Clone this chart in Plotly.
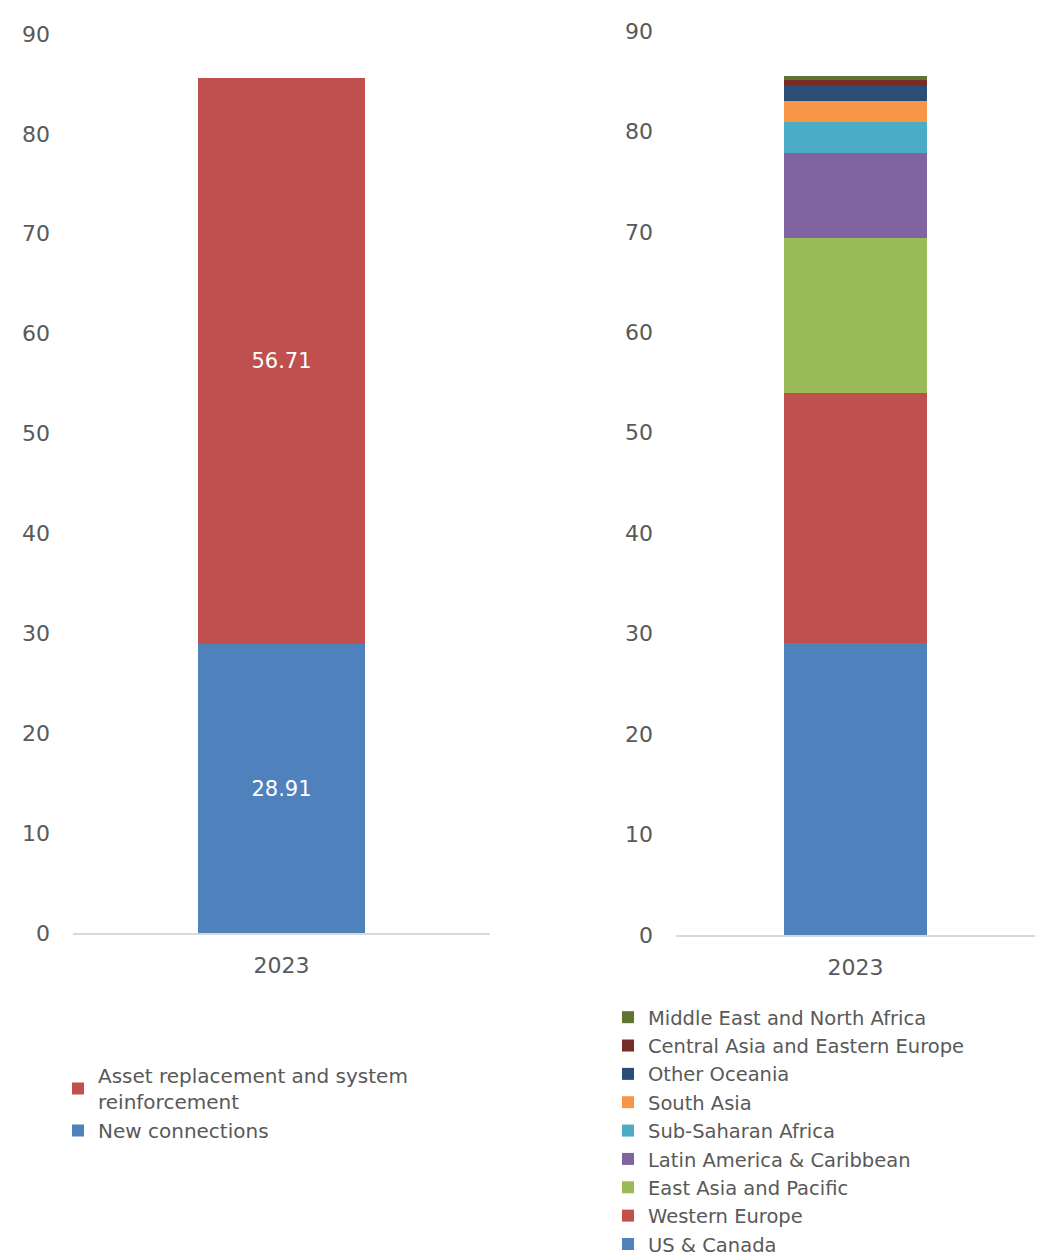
import plotly.graph_objects as go

FONT = "DejaVu Sans"
GREY = "#595959"
W, H = 1060, 1320  # figure taller than the window so the bottom legend is not squeezed
OFF = 8            # default body margin of the html page

years = ["2023"]

# left chart: by investment type
type_names = ["New connections", "Asset replacement and system<br>reinforcement"]
type_values = [28.91, 56.71]
type_colors = ["#4F81BD", "#C0504D"]

# right chart: by region (bottom to top)
region_names = [
    "US & Canada", "Western Europe", "East Asia and Pacific",
    "Latin America & Caribbean", "Sub-Saharan Africa", "South Asia",
    "Other Oceania", "Central Asia and Eastern Europe", "Middle East and North Africa",
]
region_values = [29.1, 24.9, 15.4, 8.5, 3.0, 2.1, 1.5, 0.6, 0.4]
region_colors = [
    "#4F81BD", "#C0504D", "#9BBB59", "#8064A2", "#4BACC6",
    "#F79646", "#2C4D75", "#772C2A", "#5F7530",
]


def px_x(x):
    return (x - OFF) / W


def px_y(y):
    return 1 - (y - OFF) / H


fig = go.Figure()

for name, val, col in zip(type_names, type_values, type_colors):
    fig.add_trace(go.Bar(
        x=years, y=[val], name=name, marker_color=col, marker_line_width=0,
        width=0.4, text=[f"{val:.2f}"], textposition="inside",
        insidetextanchor="middle", textfont=dict(color="white", size=21, family=FONT),
        xaxis="x", yaxis="y", legend="legend",
    ))

for name, val, col in zip(region_names, region_values, region_colors):
    fig.add_trace(go.Bar(
        x=years, y=[val], name=name, marker_color=col, marker_line_width=0,
        width=0.4, xaxis="x2", yaxis="y2", legend="legend2",
    ))

axis_common = dict(
    showgrid=False, zeroline=False, automargin=False,
    tickfont=dict(size=22, color=GREY, family=FONT),
)
xaxis_common = dict(type="category", showline=True, linecolor="#D9D9D9", linewidth=1.5,
                    ticks="", range=[-0.5, 0.5], ticklabelstandoff=12, **axis_common)
yaxis_common = dict(range=[0, 90], dtick=10, showline=False, ticklabelstandoff=22,
                    **axis_common)
legend_common = dict(xanchor="left", yanchor="top", traceorder="reversed",
                     bgcolor="rgba(0,0,0,0)")

fig.update_layout(
    template="none",
    width=W, height=H,
    margin=dict(l=0, r=0, t=0, b=0, autoexpand=False),
    plot_bgcolor="white", paper_bgcolor="white",
    barmode="stack",
    font=dict(family=FONT, color=GREY),
    xaxis=dict(domain=[px_x(73), px_x(490)], anchor="y", **xaxis_common),
    yaxis=dict(domain=[px_y(933), px_y(34)], anchor="x", **yaxis_common),
    xaxis2=dict(domain=[px_x(676), px_x(1035)], anchor="y2", **xaxis_common),
    yaxis2=dict(domain=[px_y(935), px_y(31)], anchor="x2", **yaxis_common),
    legend=dict(x=px_x(58), y=px_y(1056), font=dict(size=20, color=GREY, family=FONT),
                **legend_common),
    legend2=dict(x=px_x(608), y=px_y(998), font=dict(size=19.5, color=GREY, family=FONT),
                 **legend_common),
)

fig.write_html("out.html")
